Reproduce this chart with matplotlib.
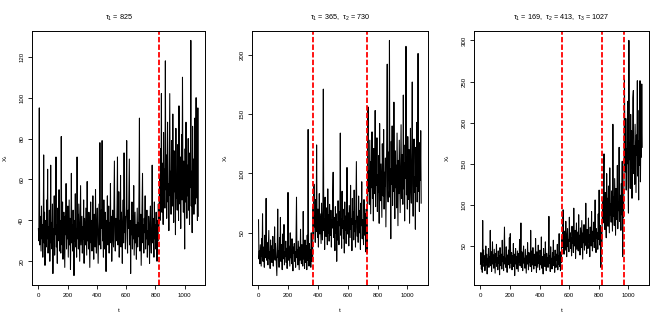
import numpy as np
import matplotlib
matplotlib.use("Agg")
import matplotlib.pyplot as plt

plt.rcParams['font.family'] = ['Liberation Sans', 'DejaVu Sans']
plt.rcParams['mathtext.fontset'] = 'custom'
plt.rcParams['mathtext.rm'] = 'Liberation Sans'
plt.rcParams['mathtext.it'] = 'Liberation Sans'

# values, one every 3 time steps (t = 1, 4, 7, ...)
# panel 1: one change point
p1_before = [36, 30, 95, 28, 42, 33, 25, 47, 31, 38, 22, 35, 72, 29, 44, 18, 33, 40, 27, 50, 31, 65, 24, 37, 30,
             45, 20, 34, 67, 29, 39, 26, 48, 14, 36, 31, 52, 23, 41, 33, 71, 27, 38, 19, 46, 30, 35, 55, 25, 40,
             32, 24, 81, 36, 28, 49, 21, 37, 44, 30, 17, 42, 33, 58, 26, 39, 31, 47, 22, 35, 50, 28, 41, 16, 34,
             63, 29, 38, 25, 45, 33, 13, 40, 30, 53, 27, 36, 22, 71, 31, 43, 26, 48, 34, 20, 39, 57, 28, 35, 42,
             24, 37, 31, 50, 19, 41, 33, 28, 46, 35, 23, 59, 30, 38, 26, 44, 32, 17, 36, 49, 29, 40, 25, 34, 52,
             30, 21, 43, 37, 27, 55, 33, 24, 39, 46, 31, 19, 35, 48, 28, 78, 34, 26, 45, 36, 79, 30, 38, 22, 50,
             33, 26, 44, 37, 15, 40, 31, 52, 28, 36, 47, 24, 39, 33, 58, 29, 42, 20, 35, 45, 31, 27, 50, 69, 34,
             25, 41, 37, 30, 48, 71, 28, 36, 54, 22, 40, 33, 62, 27, 44, 35, 19, 38, 50, 29, 73, 34, 42, 26, 39,
             47, 79, 31, 24, 45, 36, 53, 70, 28, 40, 14, 37, 33, 49, 26, 42, 31, 57, 23, 35, 44, 29, 38, 21, 34,
             46, 27, 39, 32, 55, 90, 25, 36, 43, 18, 33, 48, 63, 29, 38, 24, 41, 34, 52, 26, 37, 31, 45, 22, 35,
             28, 42, 33, 19, 39, 47, 30, 24, 36, 67, 29, 41, 34, 22, 49, 31, 38, 26, 44, 35, 20, 40, 30, 48, 37]
p1_after = [48, 62, 40, 75, 53, 102, 44, 68, 57, 38, 83, 50, 65, 46, 118, 55, 72, 41, 60, 88, 49, 58, 35, 70, 102, 52, 64, 43, 79, 56,
            47, 92, 61, 39, 74, 54, 66, 33, 85, 51, 59, 45, 77, 62, 40, 96, 55, 48, 71, 36, 63, 82, 50, 110, 58, 44, 69, 53, 26, 75,
            49, 88, 57, 41, 67, 52, 80, 45, 61, 38, 73, 56, 128, 47, 64, 34, 86, 54, 70, 43, 59, 90, 48, 66, 100, 51, 62, 40, 95, 42]

# panel 2: two change points
p2_seg1 = [61, 28, 35, 24, 40, 31, 22, 45, 30, 66, 26, 38, 33, 21, 48, 29, 36, 79, 27, 42,
           31, 23, 37, 52, 28, 34, 20, 44, 30, 39, 25, 33, 47, 22, 36, 29, 55, 27, 41, 32,
           24, 14, 38, 70, 29, 35, 21, 46, 31, 63, 26, 40, 33, 19, 49, 28, 36, 57, 23, 34,
           30, 43, 25, 37, 20, 32, 84, 27, 39, 31, 22, 50, 29, 35, 24, 45, 28, 18, 38, 33,
           41, 26, 34, 21, 47, 80, 29, 36, 23, 43, 31, 19, 38, 27, 53, 30, 24, 40, 33, 22,
           68, 28, 35, 20, 44, 30, 25, 39, 19, 48, 27, 137, 33, 22, 41, 29, 36, 21, 50, 26,
           38, 30]
p2_seg2 = [72, 48, 91, 55, 64, 42, 78, 51, 124, 60, 46, 70, 38, 58, 83, 49, 66, 53, 41, 75,
           57, 44, 68, 171, 52, 62, 36, 80, 55, 47, 71, 59, 40, 87, 50, 65, 43, 74, 56, 48,
           69, 38, 61, 54, 82, 101, 46, 63, 57, 35, 72, 50, 66, 26, 59, 44, 77, 53, 40, 68,
           56, 134, 48, 62, 37, 85, 54, 70, 45, 60, 33, 76, 52, 64, 41, 58, 105, 49, 67, 55,
           39, 73, 58, 46, 90, 53, 62, 35, 79, 57, 68, 44, 86, 51, 60, 38, 72, 110, 55, 47,
           64, 42, 81, 58, 50, 69, 36, 75, 56, 93, 45, 61, 52, 40, 78, 59, 48, 66, 34, 70,
           55, 33]
p2_seg3 = [118, 156, 85, 102, 74, 128, 95, 66, 110, 88, 135, 79, 98, 60, 121, 92, 83, 153, 72, 105,
           90, 130, 68, 99, 84, 115, 58, 142, 93, 77, 108, 87, 63, 125, 96, 81, 137, 70, 101, 89,
           113, 55, 97, 132, 192, 86, 76, 118, 94, 212, 80, 104, 45, 127, 91, 140, 73, 100, 85, 160,
           95, 62, 119, 88, 107, 71, 134, 92, 56, 111, 83, 128, 98, 67, 103, 141, 79, 116, 90, 74,
           166, 87, 109, 60, 124, 96, 207, 82, 114, 70, 131, 93, 78, 120, 58, 102, 138, 86, 75, 117,
           177, 91, 64, 106, 129, 84, 97, 53, 122, 89, 143, 76, 100, 201, 85, 112, 68, 126, 94, 136,
           75]

# panel 3: three change points
p3_seg1 = [28, 42, 22, 36, 18, 81, 30, 45, 25, 38, 20, 33, 50, 27, 40, 16, 35, 29, 47, 24,
           37, 31, 69, 26, 43, 19, 34, 55, 28, 39, 23, 46, 32, 17, 41, 30, 52, 25, 36, 21,
           44, 29, 38, 15, 48, 33, 26, 40, 22, 57, 31, 37, 20, 43, 73, 28, 35, 24, 49, 30,
           18, 39, 33, 45, 27, 60, 23, 65, 36, 29, 42, 21, 38, 31, 53, 25, 40, 14, 34, 47,
           28, 37, 22, 44, 32, 19, 41, 30, 58, 26, 36, 78, 24, 43, 33, 20, 39, 50, 29, 35,
           23, 46, 31, 17, 38, 28, 54, 34, 21, 42, 30, 37, 25, 69, 33, 19, 44, 27, 48, 32,
           22, 40, 35, 26, 59, 30, 18, 43, 34, 24, 51, 29, 38, 21, 45, 32, 27, 61, 23, 37,
           31, 16, 47, 28, 39, 25, 55, 33, 20, 41, 30, 36, 24, 44, 86, 29, 38, 19, 49, 27,
           35, 22, 42, 31, 57, 26, 37, 18, 45, 30, 24, 40, 33, 52, 21, 38, 28, 65, 25, 36,
           20, 43, 30]
p3_seg2 = [62, 48, 75, 94, 52, 40, 68, 57, 45, 80, 54, 37, 63, 71, 49, 58, 43, 85, 56, 66,
           47, 60, 38, 74, 53, 64, 42, 96, 55, 50, 69, 35, 61, 78, 46, 57, 67, 44, 88, 52,
           63, 39, 72, 56, 48, 81, 59, 34, 66, 54, 76, 45, 62, 51, 102, 58, 41, 70, 60, 47,
           84, 55, 64, 37, 73, 57, 50, 92, 61, 44, 68, 56, 79, 48, 65, 106, 53, 42, 71, 59,
           66, 46, 89, 58, 118, 62, 51, 75, 24, 67, 55, 80]
p3_seg3 = [105, 78, 128, 162, 90, 70, 115, 96, 60, 138, 84, 108, 74, 123, 92, 66, 145, 88, 101, 79,
           117, 95, 68, 198, 86, 110, 75, 132, 98, 63, 120, 90, 82, 148, 71, 104, 93, 170, 80, 112,
           97, 69, 126, 88, 153, 37, 106, 85, 140]
p3_seg4 = [253, 180, 140, 205, 118, 168, 150, 226, 132, 90, 300, 155, 175, 120, 210, 145, 190, 108, 165, 230,
           239, 138, 172, 125, 198, 152, 115, 185, 160, 251, 135, 178, 106, 215, 148, 251, 128, 192, 158, 247,
           170]

series = [p1_before + p1_after,
          p2_seg1 + p2_seg2 + p2_seg3,
          p3_seg1 + p3_seg2 + p3_seg3 + p3_seg4]
change_points = [[825], [365, 730], [548, 823, 972]]
titles = [r'$\tau_1$ = 825',
          r'$\tau_1$ = 365,  $\tau_2$ = 730',
          r'$\tau_1$ = 169,  $\tau_2$ = 413,  $\tau_3$ = 1027']
yticks = [[20, 40, 60, 80, 100, 120],
          [50, 100, 150, 200],
          [50, 100, 150, 200, 250, 300]]
xticks = [0, 200, 400, 600, 800, 1000]

fig = plt.figure(figsize=(6.64, 3.24), dpi=100)
lefts = [32, 252, 474]
widths = [173, 176, 175]

for k in range(3):
    ax = fig.add_axes([lefts[k] / 664, 1 - 285 / 324, widths[k] / 664, 254 / 324])
    y = np.array(series[k], dtype=float)
    t = np.arange(len(y)) * 3 + 1
    ax.plot(t, y, color='black', lw=0.75)
    for cp in change_points[k]:
        ax.axvline(cp, color='red', lw=1.3, linestyle=(0, (3, 1.2)))

    # R style 4% padding
    ax.set_xlim(1 - 0.04 * 1094, 1095 + 0.04 * 1094)
    lo, hi = y.min(), y.max()
    ax.set_ylim(lo - 0.04 * (hi - lo), hi + 0.04 * (hi - lo))

    ax.set_xticks(xticks)
    ax.set_yticks(yticks[k])
    ax.tick_params(direction='out', length=3, width=0.6, labelsize=4.4, pad=2.5)
    for lab in ax.get_yticklabels():
        lab.set_rotation(90)
        lab.set_va('center')
    for sp in ax.spines.values():
        sp.set_linewidth(0.7)

    ax.set_title(titles[k], fontsize=5.2, pad=8)
    ax.set_xlabel('t', fontsize=4.6)
    ax.xaxis.set_label_coords(0.5, -0.09)
    ax.set_ylabel(r'$\mathrm{X}_\mathrm{t}$', fontsize=4.6)
    ax.yaxis.set_label_coords(-0.125, 0.5)

fig.savefig('out.png', dpi=100)
